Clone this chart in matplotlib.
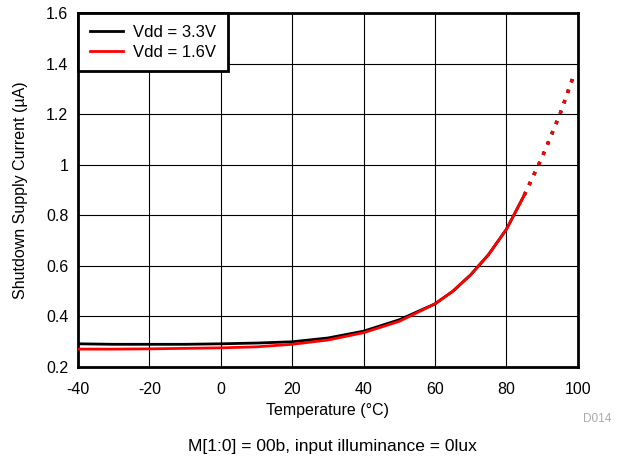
import matplotlib.pyplot as plt

plt.rcParams['font.family'] = ['Liberation Sans', 'DejaVu Sans']
plt.rcParams['axes.unicode_minus'] = False

temp = [-40, -30, -20, -10, 0, 10, 20, 30, 40, 50, 60, 65, 70, 75, 80, 85]
i_33 = [0.292, 0.290, 0.290, 0.290, 0.292, 0.295, 0.300, 0.315, 0.342, 0.387, 0.450, 0.500, 0.565, 0.645, 0.745, 0.880]
i_16 = [0.271, 0.271, 0.272, 0.274, 0.276, 0.280, 0.290, 0.307, 0.336, 0.381, 0.450, 0.500, 0.565, 0.645, 0.745, 0.880]
temp_ext = [85, 90, 95, 98.5]
i_ext = [0.880, 1.030, 1.200, 1.340]

fig = plt.figure(figsize=(6.24, 4.67), dpi=100)
ax = fig.add_axes([0.125, 0.214, 0.801, 0.758])

ax.plot(temp, i_33, color='black', lw=2, label='Vdd = 3.3V', zorder=3)
ax.plot(temp, i_16, color='red', lw=2, label='Vdd = 1.6V', zorder=4)
ax.plot(temp_ext, i_ext, color='black', lw=2.5, ls=(0, (1, 2.2)), zorder=3)
ax.plot(temp_ext, i_ext, color='red', lw=2.5, ls=(0, (1, 2.2)), zorder=4)

ax.set_xlim(-40, 100)
ax.set_ylim(0.2, 1.6)
ax.set_xticks(range(-40, 101, 20))
ax.set_yticks([0.2, 0.4, 0.6, 0.8, 1.0, 1.2, 1.4, 1.6])
ax.set_yticklabels(['0.2', '0.4', '0.6', '0.8', '1', '1.2', '1.4', '1.6'])
ax.tick_params(length=0, labelsize=11.5)
ax.tick_params(axis='x', pad=11)
ax.tick_params(axis='y', pad=7)
ax.grid(True, color='black', lw=0.8)
for s in ax.spines.values():
    s.set_linewidth(2)

ax.set_xlabel('Temperature (°C)', fontsize=11.5, labelpad=4)
ax.set_ylabel('Shutdown Supply Current (µA)', fontsize=11.5, labelpad=13)

leg = ax.legend(loc='upper left', fontsize=12, fancybox=False, framealpha=1,
                edgecolor='black', borderaxespad=0, handlelength=2.0,
                handletextpad=0.6, borderpad=0.7, labelspacing=0.3)
leg.get_frame().set_linewidth(2)

fig.text(0.957, 0.097, 'D014', color='#aaaaaa', fontsize=8.5, ha='center')
fig.text(0.532, 0.035, 'M[1:0] = 00b, input illuminance = 0lux', fontsize=12.5, ha='center')

fig.savefig('out.png')
